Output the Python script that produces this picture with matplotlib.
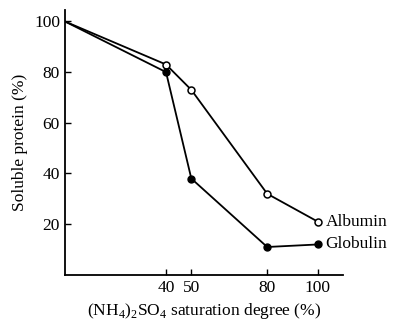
import matplotlib
matplotlib.use("Agg")
import matplotlib.pyplot as plt

saturation = [0, 40, 50, 80, 100]
albumin = [100, 83, 73, 32, 21]
globulin = [100, 80, 38, 11, 12]
xticks = [40, 50, 80, 100]
yticks = [20, 40, 60, 80, 100]

plt.rcParams['font.family'] = ['Liberation Serif', 'DejaVu Serif']
plt.rcParams['mathtext.fontset'] = 'custom'
plt.rcParams['mathtext.rm'] = 'Liberation Serif'
fig = plt.figure(figsize=(3.93, 3.23), dpi=100)
ax = fig.add_axes([0.165, 0.149, 0.708, 0.82])
marks = list(range(1, len(saturation)))
ax.plot(saturation, albumin, color='black', lw=1.3, marker='o', ms=5,
        mfc='white', mec='black', mew=1.1, markevery=marks)
ax.plot(saturation, globulin, color='black', lw=1.3, marker='o', ms=5,
        mfc='black', mec='black', markevery=marks)
ax.text(saturation[-1] + 3, albumin[-1], 'Albumin', va='center', ha='left', fontsize=12.5)
ax.text(saturation[-1] + 3, globulin[-1], 'Globulin', va='center', ha='left', fontsize=12.5)
ax.set_xlim(0, 110)
ax.set_ylim(0, 104.5)
ax.set_xticks(xticks)
ax.set_yticks(yticks)
ax.tick_params(direction='in', labelsize=12.5, length=4, width=1)
ax.spines['top'].set_visible(False)
ax.spines['right'].set_visible(False)
ax.spines['left'].set_linewidth(1.3)
ax.spines['bottom'].set_linewidth(1.3)
ax.set_ylabel('Soluble protein (%)', fontsize=12.5)
ax.set_xlabel(r'(NH$_{\mathrm{4}}$)$_{\mathrm{2}}$SO$_{\mathrm{4}}$ saturation degree (%)', fontsize=12.5)
fig.savefig('out.png', dpi=100)
